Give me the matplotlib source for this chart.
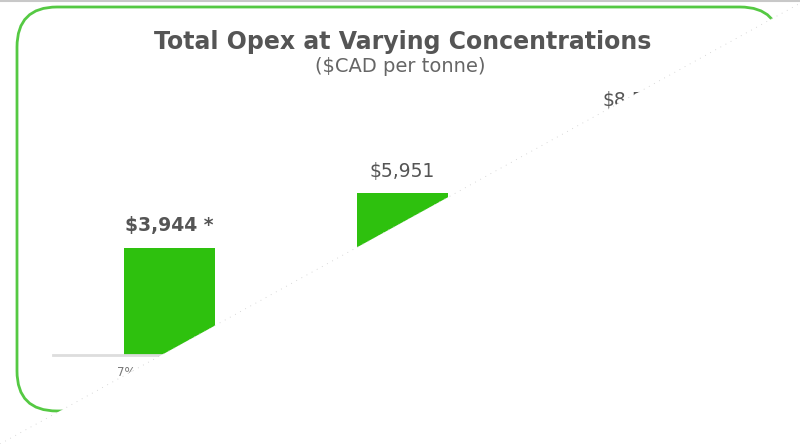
import matplotlib.pyplot as plt
from matplotlib.patches import FancyBboxPatch, Polygon
from matplotlib.lines import Line2D

# data (third value only partly visible, estimated from bar scale)
categories = ['7% concentration', '10% concentration', '15% concentration']
opex = [3944, 5951, 8580]
labels = ['$3,944 *', '$5,951', '$8,580']

BAR_GREEN = '#2ec10e'
BOX_GREEN = '#55c943'
TEXT_GREY = '#555555'

plt.rcParams['font.family'] = ['DejaVu Sans']

fig = plt.figure(figsize=(8, 4.44), dpi=100)
fig.patch.set_facecolor('white')

# rounded green frame
frame = FancyBboxPatch((17 / 800, 1 - 411 / 444), (780 - 17) / 800, (411 - 7) / 444,
                       boxstyle='round,pad=0,rounding_size=0.05',
                       transform=fig.transFigure, facecolor='white',
                       edgecolor=BOX_GREEN, linewidth=2, mutation_aspect=800 / 444,
                       zorder=-1)
fig.add_artist(frame)
fig.add_artist(Line2D([0, 1], [1 - 1.5 / 444] * 2, transform=fig.transFigure,
                      color='#c8c8c8', linewidth=1.5))

ax = fig.add_axes([53 / 800, 89 / 444, 699 / 800, 271.5 / 444])
ax.set_facecolor('none')
x = range(len(categories))
bars = ax.bar(x, opex, width=0.39, color=BAR_GREEN)
ax.set_xlim(-0.5, 2.5)
ax.set_ylim(0, 10000)

ax.bar_label(bars, labels=labels, padding=9, fontsize=13.5, color=TEXT_GREY)
ax.texts[0].set_fontweight('bold')

ax.set_xticks(list(x))
ax.set_xticklabels(categories, fontsize=8.5, color='#777777')
ax.tick_params(axis='x', length=0, pad=8)
ax.set_yticks([])
for side in ['top', 'right', 'left']:
    ax.spines[side].set_visible(False)
ax.spines['bottom'].set_color('#dddddd')
ax.spines['bottom'].set_linewidth(2)

fig.text(0.503, 1 - 42 / 444, 'Total Opex at Varying Concentrations',
         ha='center', va='center', fontsize=17, fontweight='bold', color=TEXT_GREY)
fig.text(0.5, 1 - 67 / 444, '($CAD per tonne)', ha='center', va='center',
         fontsize=14, color='#666666')

# diagonal wipe covering the lower right of the picture
wipe = Polygon([(0, 0), (806 / 800, 1), (1.1, 1), (1.1, -0.1), (0, -0.1)],
               closed=True, transform=fig.transFigure, facecolor='white',
               edgecolor='none', zorder=100)
fig.add_artist(wipe)
fig.add_artist(Line2D([0, 806 / 800], [0, 1], transform=fig.transFigure,
                      color='#cccccc', linewidth=0.6, linestyle=(0, (1, 6)),
                      zorder=101))

fig.savefig('out.png', dpi=100)
